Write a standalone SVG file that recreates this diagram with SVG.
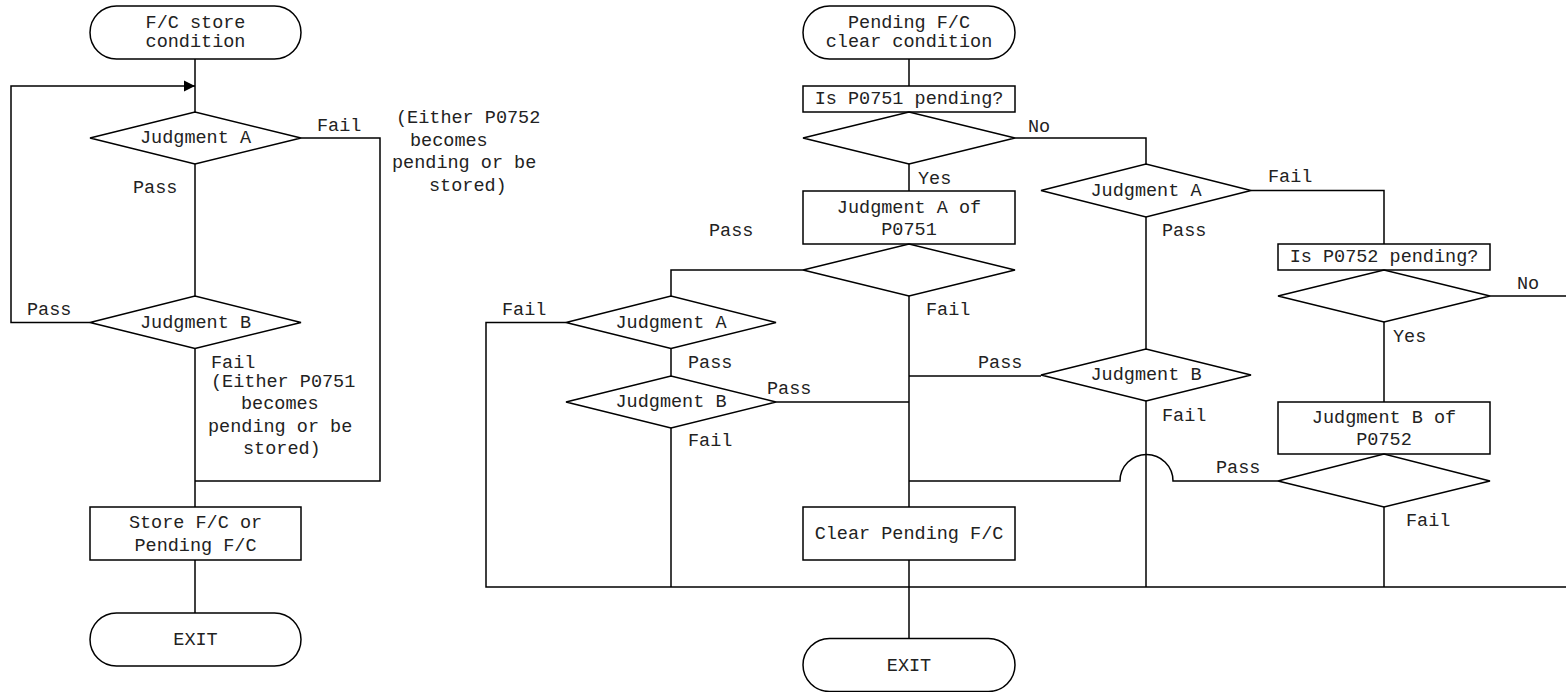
<svg xmlns="http://www.w3.org/2000/svg" width="1566" height="692" viewBox="0 0 1566 692">
<style>
.s{fill:#fff;stroke:#000;stroke-width:1.5}
.c{fill:none;stroke:#000;stroke-width:1.5}
text{font-family:"Liberation Mono","Courier New",monospace;font-size:18.5px;fill:#222;dominant-baseline:central}
.m{text-anchor:middle}
</style>
<defs>
<marker id="arr" markerWidth="12" markerHeight="12" refX="11" refY="6" orient="auto" markerUnits="userSpaceOnUse">
<path d="M0,0.5 L11,6 L0,11.5 Z" fill="#000"/>
</marker>
</defs>
<rect width="1566" height="692" fill="#fff"/>
<g id="connectors">
<path class="c" d="M195,59 V112"/>
<path class="c" d="M90,322.5 H11 V86 H195" marker-end="url(#arr)"/>
<path class="c" d="M195,164 V296"/>
<path class="c" d="M301,138 H380 V481 H195"/>
<path class="c" d="M195,348.5 V507"/>
<path class="c" d="M195,560 V613"/>
<path class="c" d="M909,59 V86"/>
<path class="c" d="M909,164 V191"/>
<path class="c" d="M1015,138 H1146 V164"/>
<path class="c" d="M909,296 V507"/>
<path class="c" d="M803,270 H671 V296"/>
<path class="c" d="M566,322.5 H486 V587 H1566"/>
<path class="c" d="M671,348.5 V376"/>
<path class="c" d="M671,428 V587"/>
<path class="c" d="M776,402 H909"/>
<path class="c" d="M909,376 H1041"/>
<path class="c" d="M909,481 H1120 A26.5,26.5 0 0 1 1173,481 H1278"/>
<path class="c" d="M909,560 V638.5"/>
<path class="c" d="M1146,217 V349"/>
<path class="c" d="M1146,401 V587"/>
<path class="c" d="M1251,190.5 H1384 V244"/>
<path class="c" d="M1384,322 V402"/>
<path class="c" d="M1490,296 H1566"/>
<path class="c" d="M1384,507 V587"/>
</g>
<g id="labels">
<text x="317" y="126">Fail</text>
<text x="133" y="188">Pass</text>
<text x="27" y="310">Pass</text>
<text x="396" y="118">(Either P0752</text>
<text x="410" y="141">becomes</text>
<text x="392" y="163">pending or be</text>
<text x="429" y="186">stored)</text>
<text x="211" y="363">Fail</text>
<text x="211" y="382">(Either P0751</text>
<text x="241" y="404">becomes</text>
<text x="208" y="427">pending or be</text>
<text x="243" y="449">stored)</text>
<text x="1028" y="127">No</text>
<text x="918" y="179">Yes</text>
<text x="709" y="231">Pass</text>
<text x="926" y="310">Fail</text>
<text x="502" y="310">Fail</text>
<text x="688" y="363">Pass</text>
<text x="767" y="389">Pass</text>
<text x="688" y="441">Fail</text>
<text x="978" y="363">Pass</text>
<text x="1268" y="177">Fail</text>
<text x="1162" y="231">Pass</text>
<text x="1517" y="284">No</text>
<text x="1393" y="337">Yes</text>
<text x="1162" y="416">Fail</text>
<text x="1216" y="468">Pass</text>
<text x="1406" y="521">Fail</text>
</g>
<g id="n_start_left"><rect class="s" x="90" y="6" width="211" height="53" rx="26.5"/><text class="m" x="195.5" y="23">F/C store</text><text class="m" x="195.5" y="42">condition</text></g>
<g id="n_judgeA_left"><polygon class="s" points="90,138 195,112 301,138 195,164"/><text class="m" x="195.5" y="138">Judgment A</text></g>
<g id="n_judgeB_left"><polygon class="s" points="90,322.5 195,296 301,322.5 195,348.5"/><text class="m" x="195.5" y="323">Judgment B</text></g>
<g id="n_store"><rect class="s" x="90" y="507" width="211" height="53"/><text class="m" x="195.5" y="523">Store F/C or</text><text class="m" x="195.5" y="546">Pending F/C</text></g>
<g id="n_exit_left"><rect class="s" x="90" y="613" width="211" height="53" rx="26.5"/><text class="m" x="195.5" y="640">EXIT</text></g>
<g id="n_start_right"><rect class="s" x="803" y="6" width="212" height="53" rx="26.5"/><text class="m" x="909" y="23">Pending F/C</text><text class="m" x="909" y="42">clear condition</text></g>
<g id="n_is751"><rect class="s" x="803" y="86" width="212" height="26"/><text class="m" x="909" y="99">Is P0751 pending?</text></g>
<g id="n_d751"><polygon class="s" points="803,138 909,112 1015,138 909,164"/></g>
<g id="n_ja751"><rect class="s" x="803" y="191" width="212" height="53"/><text class="m" x="909" y="208">Judgment A of</text><text class="m" x="909" y="230">P0751</text></g>
<g id="n_dja751"><polygon class="s" points="803,270 909,244 1015,270 909,296"/></g>
<g id="n_judgeA_l2"><polygon class="s" points="566,322.5 671,296 776,322.5 671,348.5"/><text class="m" x="671" y="323">Judgment A</text></g>
<g id="n_judgeB_l2"><polygon class="s" points="566,402 671,376 776,402 671,428"/><text class="m" x="671" y="402">Judgment B</text></g>
<g id="n_judgeA_m"><polygon class="s" points="1041,190.5 1146,164 1251,190.5 1146,217"/><text class="m" x="1146" y="191">Judgment A</text></g>
<g id="n_judgeB_m"><polygon class="s" points="1041,375 1146,349 1251,375 1146,401"/><text class="m" x="1146" y="375">Judgment B</text></g>
<g id="n_is752"><rect class="s" x="1278" y="244" width="212" height="26"/><text class="m" x="1384" y="257">Is P0752 pending?</text></g>
<g id="n_d752"><polygon class="s" points="1278,296 1384,270 1490,296 1384,322"/></g>
<g id="n_jb752"><rect class="s" x="1278" y="402" width="212" height="52"/><text class="m" x="1384" y="418">Judgment B of</text><text class="m" x="1384" y="440">P0752</text></g>
<g id="n_djb752"><polygon class="s" points="1278,481 1384,454 1490,481 1384,507"/></g>
<g id="n_clear"><rect class="s" x="803" y="507" width="212" height="53"/><text class="m" x="909" y="534">Clear Pending F/C</text></g>
<g id="n_exit_right"><rect class="s" x="803" y="638.5" width="212" height="53" rx="26.5"/><text class="m" x="909" y="666">EXIT</text></g>
</svg>
